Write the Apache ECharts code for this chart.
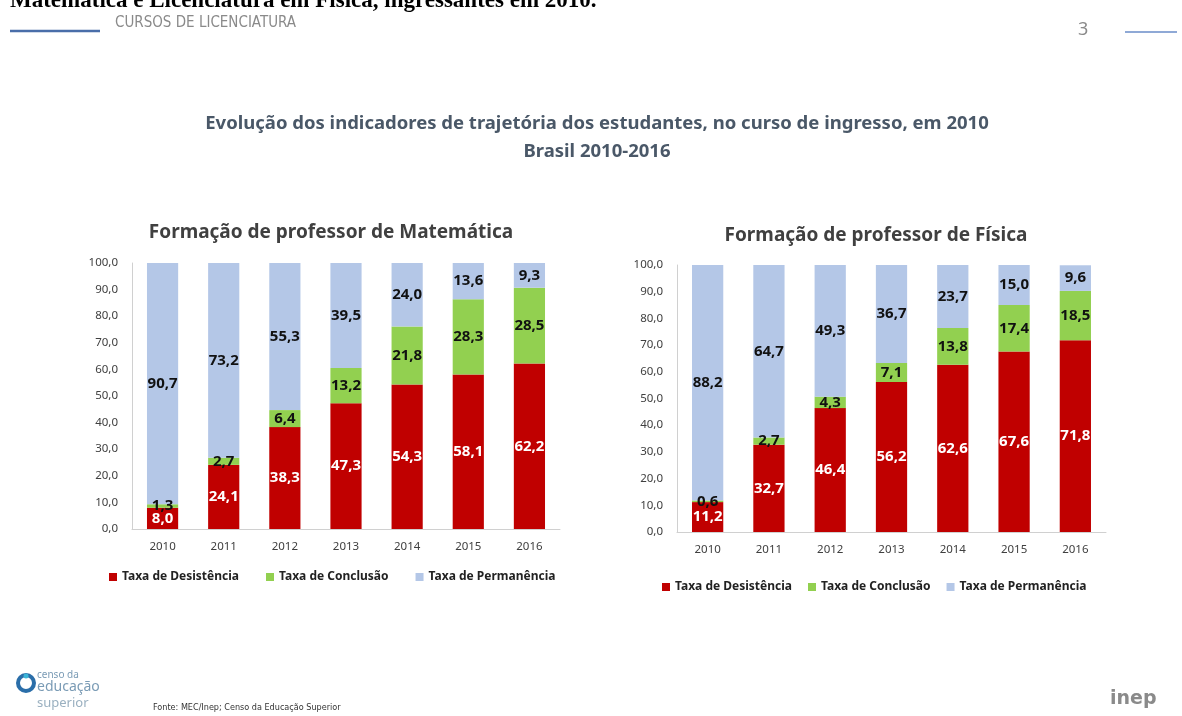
<!DOCTYPE html>
<html><head><meta charset="utf-8">
<script src="https://cdn.jsdelivr.net/npm/echarts@6/dist/echarts.min.js"></script>
<style>html,body{margin:0;padding:0;background:#fff}#c{width:1182px;height:716px}</style>
</head><body><div id="c"></div>
<script>
const years = ['2010','2011','2012','2013','2014','2015','2016'];
const seriesNames = ['Taxa de Desistência','Taxa de Conclusão','Taxa de Permanência'];
const matDesistencia = [8.0,24.1,38.3,47.3,54.3,58.1,62.2];
const matConclusao   = [1.3,2.7,6.4,13.2,21.8,28.3,28.5];
const matPermanencia = [90.7,73.2,55.3,39.5,24.0,13.6,9.3];
const fisDesistencia = [11.2,32.7,46.4,56.2,62.6,67.6,71.8];
const fisConclusao   = [0.6,2.7,4.3,7.1,13.8,17.4,18.5];
const fisPermanencia = [88.2,64.7,49.3,36.7,23.7,15.0,9.6];
const colors = ['#c00000','#92d050','#b4c7e7'];

const fmt = v => v.toFixed(1).replace('.', ',');
const font = '"Noto Sans", sans-serif';
function lbl(color){
  return {show:true, position:'inside', color:color, fontWeight:'bold', fontSize:15, fontFamily:font,
          formatter:p=>fmt(p.value)};
}
function mkSeries(idx, data){
  return data.map((d,i)=>({
    name:seriesNames[i], type:'bar', stack:'s'+idx, xAxisIndex:idx, yAxisIndex:idx,
    data:d, barWidth:'51%', itemStyle:{color:colors[i]},
    label:lbl(i===0?'#ffffff':'#111111')
  }));
}
function xAx(idx){
  return {type:'category', gridIndex:idx, data:years, axisTick:{show:false},
    axisLine:{lineStyle:{color:'#d0d0d0'}},
    axisLabel:{color:'#404040', fontSize:11.5, fontFamily:font, margin:12}};
}
function yAx(idx){
  return {type:'value', gridIndex:idx, min:0, max:100, interval:10, splitLine:{show:false},
    axisLine:{show:true, lineStyle:{color:'#d0d0d0'}}, axisTick:{show:false},
    axisLabel:{color:'#404040', fontSize:11.5, fontFamily:font, margin:14, formatter:v=>fmt(v)}};
}
const legendText = {fontSize:12, fontWeight:'bold', color:'#222', fontFamily:font};

const chart = echarts.init(document.getElementById('c'));
chart.setOption({
  animation:false,
  backgroundColor:'#fff',
  title:[
    {text:'Evolução dos indicadores de trajetória dos estudantes, no curso de ingresso, em 2010\nBrasil 2010-2016',
     left:592, top:105, textAlign:'center',
     textStyle:{fontSize:18.5, fontWeight:'bold', color:'#4a5868', fontFamily:font, lineHeight:28}},
    {text:'Formação de professor de Matemática', left:326, top:218, textAlign:'center',
     textStyle:{fontSize:19, fontWeight:'bold', color:'#404040', fontFamily:font}},
    {text:'Formação de professor de Física', left:871, top:221, textAlign:'center',
     textStyle:{fontSize:19, fontWeight:'bold', color:'#404040', fontFamily:font}}
  ],
  grid:[
    {left:132, top:263, width:428, height:266},
    {left:677, top:265, width:429, height:267}
  ],
  xAxis:[xAx(0), xAx(1)],
  yAxis:[yAx(0), yAx(1)],
  legend:[
    {left:104, top:566, icon:'rect', itemWidth:8, itemHeight:8, itemGap:27, textStyle:legendText, data:seriesNames},
    {left:657, top:576, icon:'rect', itemWidth:8, itemHeight:8, itemGap:16, textStyle:legendText, data:seriesNames}
  ],
  series:[...mkSeries(0,[matDesistencia,matConclusao,matPermanencia]),
          ...mkSeries(1,[fisDesistencia,fisConclusao,fisPermanencia])],
  graphic:[
    {type:'text', left:10, top:-10, style:{text:'Matemática e Licenciatura em Física, ingressantes em 2010.',
      font:'bold 23px "Liberation Serif", serif', fill:'#000'}},
    {type:'line', shape:{x1:10,y1:31,x2:100,y2:31}, style:{stroke:'#4a6ea9', lineWidth:2.5}},
    {type:'text', left:115, top:16, style:{text:'CURSOS DE LICENCIATURA',
      font:'15px "Liberation Sans Narrow", "DejaVu Sans Condensed", sans-serif', fill:'#8a8a8a'}},
    {type:'text', left:1078, top:21, style:{text:'3', font:'18px "Noto Sans", sans-serif', fill:'#8a8a8a'}},
    {type:'line', shape:{x1:1125,y1:32,x2:1177,y2:32}, style:{stroke:'#8fa9d6', lineWidth:2}},
    {type:'circle', shape:{cx:26, cy:683, r:8}, style:{fill:'none', stroke:'#2a6ea9', lineWidth:4}},
    {type:'circle', shape:{cx:26, cy:676, r:2.5}, style:{fill:'#3ab5d8'}},
    {type:'text', left:37, top:670, style:{text:'censo da', font:'10px "Noto Sans", sans-serif', fill:'#7a9bb5'}},
    {type:'text', left:37, top:680, style:{text:'educação', font:'14px "Noto Sans", sans-serif', fill:'#7a9bb5'}},
    {type:'text', left:37, top:697, style:{text:'superior', font:'13px "Noto Sans", sans-serif', fill:'#9ab0c0'}},
    {type:'text', left:153, top:703, style:{text:'Fonte: MEC/Inep; Censo da Educação Superior',
      font:'9px "DejaVu Sans Condensed", sans-serif', fill:'#333'}},
    {type:'text', left:1110, top:690, style:{text:'inep', font:'bold 19px "DejaVu Sans", sans-serif', fill:'#8a8a8a'}}
  ]
});
</script></body></html>
